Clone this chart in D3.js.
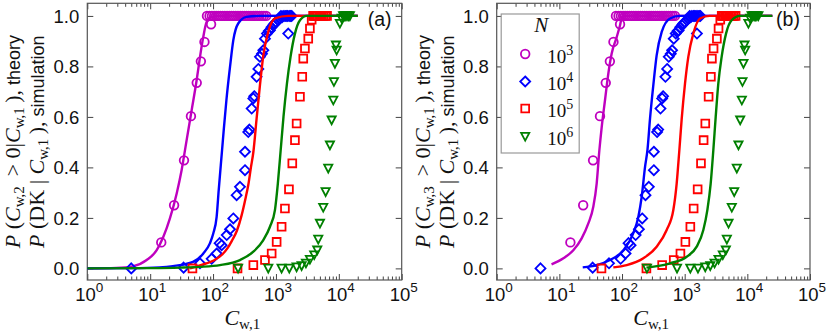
<!DOCTYPE html>
<html>
<head>
<meta charset="utf-8">
<script src="https://cdn.jsdelivr.net/npm/d3@7"></script>
<style>
  body { margin: 0; background: #fff; }
  svg { display: block; }
</style>
</head>
<body>
<svg id="chart" width="830" height="336"></svg>
<script>
// ---- data ----
const xMajor = [1, 10, 100, 1000, 10000, 100000];
const xMajorExp = ["0", "1", "2", "3", "4", "5"];
const yTicks = [0, 0.2, 0.4, 0.6, 0.8, 1.0];
const sizeExp = ["3", "4", "5", "6"];          // N = 10^3 ... 10^6
const colors = ["#bf00bf", "#0000ff", "#ff0000", "#008000"];
const shapes = ["circle", "diamond", "square", "triangle"];

// simulation, P(DK | C_w,1) -- same points in both panels
const simN3 = [[15, 0.103], [24, 0.25], [34.5, 0.428], [44.5, 0.603], [55, 0.735], [64, 0.82], [73, 0.897],
  [93, 0.967], [80, 1], [88, 1], [96, 1], [104, 1], [112, 1], [121, 1], [131, 1], [142, 1], [154, 1], [167, 1],
  [181, 1], [196, 1], [212, 1], [230, 1], [249, 1], [270, 1], [292, 1], [316, 1], [342, 1], [370, 1], [401, 1],
  [434, 1], [470, 1], [508, 1], [550, 1], [596, 1], [645, 1], [700, 1]];
const simN4 = [[5, 0], [34, 0.003], [62, 0.02], [95, 0.038], [114, 0.059], [127, 0.1], [137, 0.092], [165, 0.132],
  [186, 0.155], [210, 0.198], [237, 0.29], [268, 0.323], [322, 0.389], [322, 0.462], [363, 0.54], [378, 0.55],
  [411, 0.633], [437, 0.673], [452, 0.682], [493, 0.759], [525, 0.79], [557, 0.838], [600, 0.85], [630, 0.864],
  [669, 0.91], [720, 0.93], [770, 0.94], [803, 0.943], [850, 0.955], [906, 0.963], [950, 0.97], [1000, 0.975],
  [1089, 0.983], [1150, 0.99], [1200, 1], [1250, 0.995], [1300, 1], [1390, 1], [1450, 1], [1520, 1], [1570, 0.93],
  [1620, 1], [1700, 1], [1778, 1]];
const simN5 = [[47, 0], [245, 0], [437, 0.013], [669, 0.033], [855, 0.059], [1026, 0.105], [1231, 0.165],
  [1390, 0.237], [1610, 0.313], [1820, 0.416], [2005, 0.508], [2133, 0.574], [2410, 0.68], [2620, 0.759],
  [2720, 0.831], [2890, 0.871], [3265, 0.91], [3470, 0.95], [3700, 0.985], [3900, 1], [4050, 1], [4200, 1],
  [4400, 1], [4600, 1], [4850, 1], [5100, 1], [5400, 1], [5700, 1], [6100, 1], [6500, 1]];
const simN6 = [[250, 0], [755, 0], [1230, 0], [1630, 0], [2130, 0.005], [2560, 0.01], [3000, 0.02], [3470, 0.035],
  [4060, 0.053], [4540, 0.072], [4710, 0.115], [5010, 0.178], [5650, 0.241], [6170, 0.303], [6790, 0.396],
  [7220, 0.488], [7690, 0.587], [8170, 0.666], [8360, 0.739], [8670, 0.811], [9000, 0.884], [9230, 0.864],
  [10400, 0.97], [11070, 0.99], [11700, 1], [12300, 1], [12900, 1], [13500, 1], [14200, 1], [15000, 1]];

// theory, panel (a): P(C_w,2 > 0 | C_w,1)
const theoryA3 = [[1, 0], [2.9, 0.002], [5.4, 0.009], [8.8, 0.033], [12.7, 0.072], [16.2, 0.125], [20.6, 0.198],
  [26.4, 0.297], [31.6, 0.389], [38, 0.508], [45.7, 0.627], [54.8, 0.745], [62, 0.838], [69.9, 0.917], [79, 0.976],
  [95, 0.996], [129, 1], [20000, 1]];
const theoryA4 = [[1, 0], [5, 0.001], [14, 0.004], [23, 0.009], [48, 0.026], [70, 0.059], [89, 0.099],
  [101, 0.139], [114, 0.204], [123, 0.31], [139, 0.468], [148, 0.55], [163, 0.666], [186, 0.798], [210, 0.904],
  [251, 0.97], [342, 0.996], [557, 1], [20000, 1]];
const theoryA5 = [[43, 0], [62, 0.012], [100, 0.03], [140, 0.055], [170, 0.08], [200, 0.11], [240, 0.15],
  [285, 0.211], [330, 0.28], [363, 0.33], [400, 0.4], [437, 0.46], [493, 0.594], [557, 0.726], [630, 0.844],
  [755, 0.937], [964, 0.99], [1570, 1], [20000, 1]];
const theoryA6 = [[1, 0], [10, 0.001], [30, 0.003], [62, 0.006], [129, 0.013], [268, 0.033], [437, 0.066],
  [630, 0.112], [803, 0.165], [964, 0.231], [1072, 0.336], [1189, 0.468], [1318, 0.6], [1496, 0.732],
  [1706, 0.838], [2005, 0.93], [2410, 0.983], [3076, 1], [20000, 1]];

// theory, panel (b): P(C_w,3 > 0 | C_w,1)
const theoryB3 = [[7.5, 0.016], [11.6, 0.04], [16.7, 0.072], [22.7, 0.119], [29, 0.178], [34.8, 0.244],
  [39.4, 0.336], [43.5, 0.468], [47.4, 0.56], [53.5, 0.666], [60.5, 0.772], [68.4, 0.851], [82, 0.915],
  [93, 0.963], [100, 0.996], [110, 1], [25000, 1]];
const theoryB4 = [[23.6, 0.004], [39.4, 0.013], [64.3, 0.033], [105, 0.072], [151, 0.139], [182, 0.204],
  [206, 0.283], [233, 0.402], [255, 0.47], [280, 0.594], [316, 0.726], [357, 0.844], [430, 0.937], [583, 0.99],
  [841, 1], [25000, 1]];
const theoryB5 = [[72.6, 0.004], [119, 0.013], [219, 0.04], [357, 0.086], [516, 0.152], [659, 0.231],
  [745, 0.336], [822, 0.468], [895, 0.59], [1012, 0.732], [1143, 0.838], [1372, 0.93], [1755, 0.99],
  [2510, 1], [25000, 1]];
const theoryB6 = [[245, 0.003], [583, 0.02], [1076, 0.046], [1555, 0.086], [1985, 0.152], [2300, 0.231],
  [2600, 0.336], [2865, 0.468], [3126, 0.6], [3440, 0.732], [3890, 0.838], [4570, 0.93], [5620, 0.983],
  [7640, 1], [25000, 1]];

const simulation = [simN3, simN4, simN5, simN6];

const panels = [
  { x0: 87.3, x1: 401.7, sub: "2", tag: "(a)", theory: [theoryA3, theoryA4, theoryA5, theoryA6], legend: false },
  { x0: 496.7, x1: 810, sub: "3", tag: "(b)", theory: [theoryB3, theoryB4, theoryB5, theoryB6], legend: true }
];

const SERIF = "'Liberation Serif', 'Times New Roman', serif";
const SANS = "'Liberation Sans', Arial, sans-serif";
const yTop = 3.3, yBot = 280;

const svg = d3.select("#chart");

function markerPath(shape) {
  if (shape === "circle") return d3.symbol(d3.symbolCircle, Math.PI * 4.3 * 4.3)();
  if (shape === "diamond") return "M0,-5L5,0L0,5L-5,0Z";
  if (shape === "square") return "M-3.9,-3.9H3.9V3.9H-3.9Z";
  return "M-4.1,-3.7L4.1,-3.7L0,4.1Z";   // triangle down
}

function addPower(sel, base, exp, supSize, supDy) {
  sel.append("tspan").text(base);
  sel.append("tspan").attr("font-size", supSize).attr("dy", supDy).text(exp);
}

// math like "C_{w,k}"
function addC(t, sub, subSize) {
  t.append("tspan").attr("font-style", "italic").text("C");
  t.append("tspan").attr("font-size", subSize).attr("dy", 4).text("w," + sub);
  t.append("tspan").attr("dy", -4).text("\u2009");
}

panels.forEach(p => {
  const x = d3.scaleLog().domain([1, 1e5]).range([p.x0, p.x1]);
  const y = d3.scaleLinear().domain([-0.046, 1.05]).range([yBot, yTop]);
  const g = svg.append("g");

  // ticks, all inward
  const minor = x.ticks().filter(v => !xMajor.includes(v));
  [["bottom", yBot], ["top", yTop]].forEach(([side, ty]) => {
    const mk = side === "bottom" ? d3.axisBottom : d3.axisTop;
    g.append("g").attr("transform", `translate(0,${ty})`)
      .call(mk(x).tickValues(xMajor).tickSize(-6).tickFormat(""))
      .call(a => a.select(".domain").remove());
    g.append("g").attr("transform", `translate(0,${ty})`)
      .call(mk(x).tickValues(minor).tickSize(-3.5).tickFormat(""))
      .call(a => a.select(".domain").remove());
  });
  g.append("g").attr("transform", `translate(${p.x0},0)`)
    .call(d3.axisLeft(y).tickValues(yTicks).tickSize(-6).tickFormat(""))
    .call(a => a.select(".domain").remove());
  g.append("g").attr("transform", `translate(${p.x1},0)`)
    .call(d3.axisRight(y).tickValues(yTicks).tickSize(-6).tickFormat(""))
    .call(a => a.select(".domain").remove());
  g.selectAll(".tick line").attr("stroke", "#444").attr("stroke-width", 1);

  g.append("rect")
    .attr("x", p.x0).attr("y", yTop)
    .attr("width", p.x1 - p.x0).attr("height", yBot - yTop)
    .attr("fill", "none").attr("stroke", "#555").attr("stroke-width", 1.2);

  // tick labels
  xMajor.forEach((v, i) => {
    const t = g.append("text")
      .attr("x", x(v) + 2).attr("y", 301)
      .attr("text-anchor", "middle")
      .attr("font-family", SANS).attr("font-size", 18.5).attr("fill", "#111");
    addPower(t, "10", xMajorExp[i], 13.5, -9);
  });
  yTicks.forEach(v => {
    g.append("text")
      .attr("x", p.x0 - 8).attr("y", y(v)).attr("dy", "0.36em")
      .attr("text-anchor", "end")
      .attr("font-family", SANS).attr("font-size", 18.5).attr("fill", "#111")
      .text(d3.format(".1f")(v));
  });

  // series
  const line = d3.line().x(d => x(d[0])).y(d => y(d[1])).curve(d3.curveMonotoneX);
  for (let k = 0; k < 4; k++) {
    g.append("path")
      .datum(p.theory[k])
      .attr("d", line)
      .attr("fill", "none").attr("stroke", colors[k]).attr("stroke-width", 2.4);
    g.append("g").selectAll("path")
      .data(simulation[k])
      .join("path")
      .attr("d", markerPath(shapes[k]))
      .attr("transform", d => `translate(${x(d[0])},${y(d[1])})`)
      .attr("fill", "none").attr("stroke", colors[k]).attr("stroke-width", 1.8);
  }

  // panel tag
  g.append("text")
    .attr("x", p.x1 - 22).attr("y", 26)
    .attr("text-anchor", "middle")
    .attr("font-family", SANS).attr("font-size", 19.5).attr("fill", "#111")
    .text(p.tag);

  // x label
  const xl = g.append("text")
    .attr("x", (p.x0 + p.x1) / 2).attr("y", 325)
    .attr("text-anchor", "middle")
    .attr("font-family", SERIF).attr("font-size", 22).attr("fill", "#111");
  addC(xl, "1", 15);

  // y label, two rotated lines
  const cy = (yTop + yBot) / 2;
  const l1 = g.append("text")
    .attr("transform", `translate(${p.x0 - 67},${cy}) rotate(-90)`)
    .attr("text-anchor", "middle")
    .attr("font-family", SERIF).attr("font-size", 22).attr("fill", "#111");
  l1.append("tspan").attr("font-style", "italic").text("P");
  l1.append("tspan").text(" (");
  addC(l1, p.sub, 15);
  l1.append("tspan").text(" > 0|");
  addC(l1, "1", 15);
  l1.append("tspan").text("),");
  l1.append("tspan").attr("font-family", SANS).attr("font-size", 18).text("  theory");

  const l2 = g.append("text")
    .attr("transform", `translate(${p.x0 - 43},${cy}) rotate(-90)`)
    .attr("text-anchor", "middle")
    .attr("font-family", SERIF).attr("font-size", 22).attr("fill", "#111");
  l2.append("tspan").attr("font-style", "italic").text("P");
  l2.append("tspan").text(" (DK | ");
  addC(l2, "1", 15);
  l2.append("tspan").text("),");
  l2.append("tspan").attr("font-family", SANS).attr("font-size", 18).text("  simulation");

  // legend
  if (p.legend) {
    const lg = g.append("g");
    lg.append("rect")
      .attr("x", p.x0 + 4.5).attr("y", 14).attr("width", 78).attr("height", 139)
      .attr("fill", "#fff").attr("stroke", "#999").attr("stroke-width", 1.2);
    lg.append("text")
      .attr("x", p.x0 + 44.5).attr("y", 32)
      .attr("text-anchor", "middle")
      .attr("font-family", SERIF).attr("font-style", "italic").attr("font-size", 21).attr("fill", "#111")
      .text("N");
    const rowY = [54, 81.5, 108.5, 136.5];
    sizeExp.forEach((e, k) => {
      lg.append("path")
        .attr("d", markerPath(shapes[k]))
        .attr("transform", `translate(${p.x0 + 28.5},${rowY[k]})`)
        .attr("fill", "none").attr("stroke", colors[k]).attr("stroke-width", 1.8);
      const t = lg.append("text")
        .attr("x", p.x0 + 50.5).attr("y", rowY[k] + 8.5)
        .attr("font-family", SERIF).attr("font-size", 19).attr("fill", "#111");
      addPower(t, "10", e, 14, -8);
    });
  }
});
</script>
</body>
</html>
